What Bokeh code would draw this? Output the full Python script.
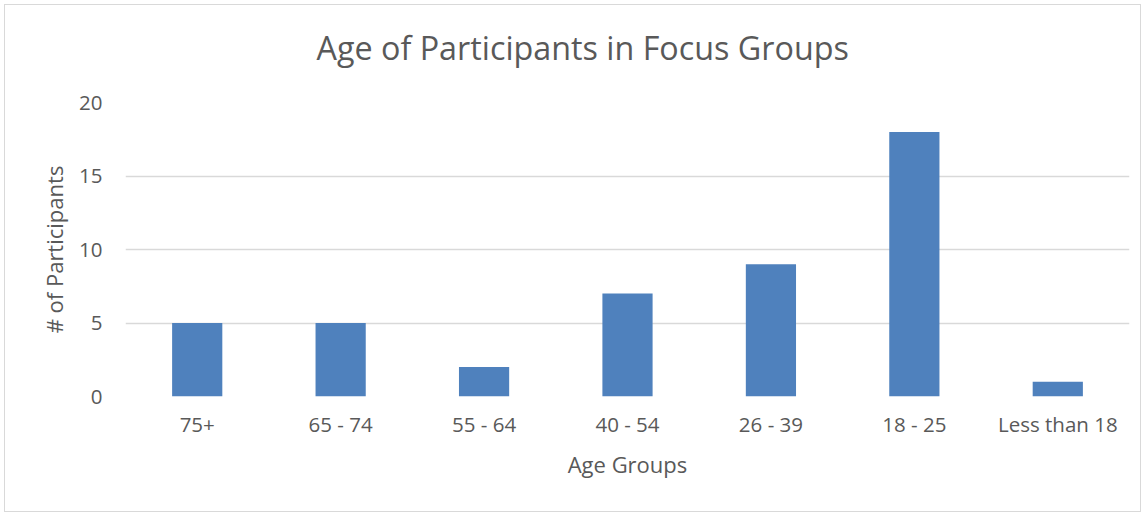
from bokeh.plotting import figure
from bokeh.models import ColumnDataSource, FixedTicker, Title
from bokeh.embed import file_html
from bokeh.resources import INLINE

categories = ["75+", "65 - 74", "55 - 64", "40 - 54", "26 - 39", "18 - 25", "Less than 18"]
participants = [5, 5, 2, 7, 9, 18, 1]
y_ticks = [0, 5, 10, 15, 20]
title_text = "Age of Participants in Focus Groups"

FONT = "Open Sans"
TXT = "#595959"

src = ColumnDataSource(dict(cat=categories, val=participants))

p = figure(x_range=categories, y_range=(0, 20), width=1137, height=508,
           output_backend="svg", toolbar_location=None, title=title_text,
           min_border_left=120, min_border_right=13, min_border_top=97, min_border_bottom=117)

p.vbar(x="cat", top="val", width=0.35, source=src, color="#4F81BD", line_color=None)

p.title.align = "left"
p.title.offset = 191
p.title.standoff = 10
p.title.text_font = FONT
p.title.text_font_size = "32.3px"
p.title.text_font_style = "normal"
p.title.text_color = TXT

# blank spacer panel between the frame and the title
spacer = Title(text=" ", text_font_size="10px", standoff=16)
p.add_layout(spacer, "above")

p.yaxis.ticker = FixedTicker(ticks=y_ticks)
p.yaxis.axis_label = "# of Participants"
p.xaxis.axis_label = "Age Groups"
for ax in (p.xaxis, p.yaxis):
    ax.axis_line_color = None
    ax.major_tick_line_color = None
    ax.minor_tick_line_color = None
    ax.major_label_text_font = FONT
    ax.major_label_text_font_size = "20.5px"
    ax.major_label_text_color = TXT
    ax.axis_label_text_font = FONT
    ax.axis_label_text_font_size = "22px"
    ax.axis_label_text_font_style = "normal"
    ax.axis_label_text_color = TXT
p.yaxis.major_label_standoff = 17
p.yaxis.axis_label_standoff = 7
p.xaxis.major_label_standoff = 7
p.xaxis.axis_label_standoff = 8

p.xgrid.grid_line_color = None
p.ygrid.grid_line_color = "#D9D9D9"
p.ygrid.grid_line_width = 1.5
p.outline_line_color = None
p.background_fill_color = "white"
p.border_fill_color = "white"
p.styles = {"border": "1px solid #D9D9D9", "margin": "4px"}

open("out.html", "w").write(file_html(p, INLINE))
